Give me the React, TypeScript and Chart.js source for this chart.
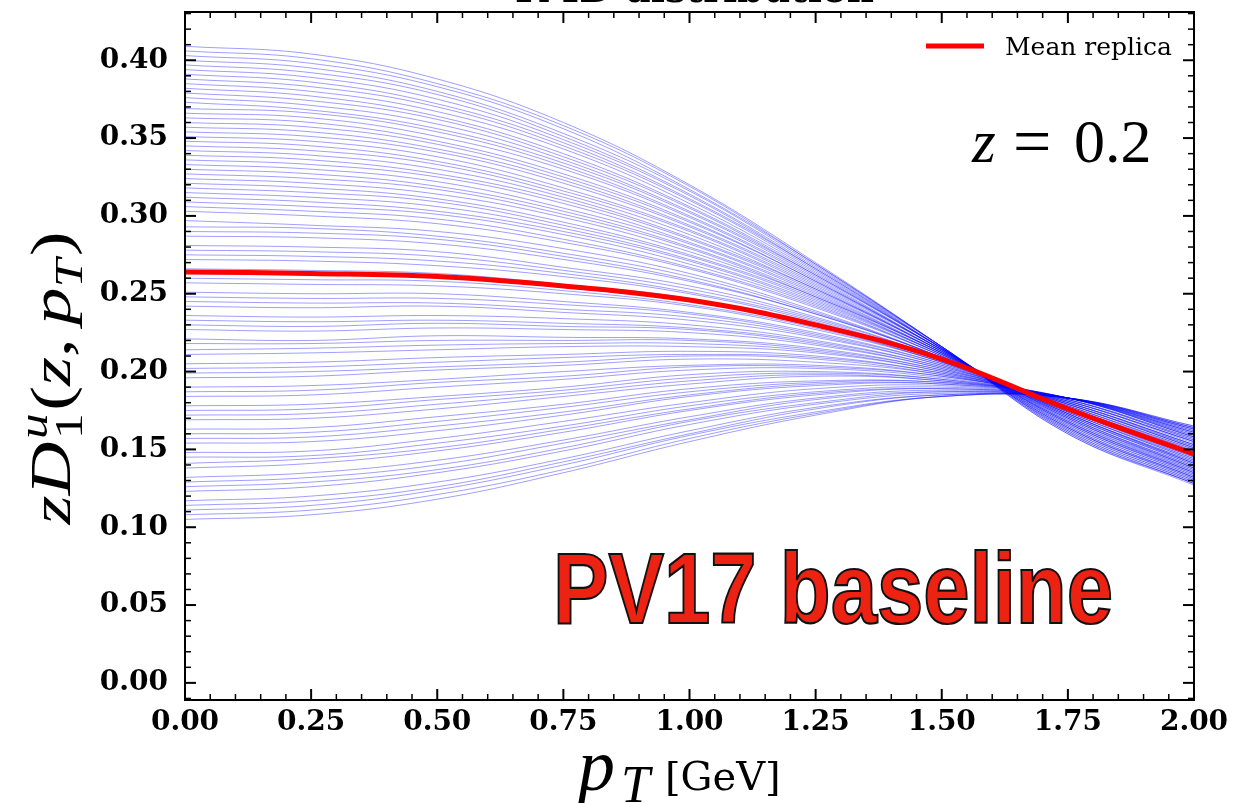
import { useEffect, useRef } from "react";
import { Chart, registerables } from "chart.js";

Chart.register(...registerables);

// ---------------- data ----------------
const PT = [0, 0.25, 0.5, 0.75, 1.0, 1.25, 1.5, 1.75, 2.0];

// replica values at each pT column (same replica order in every column)
const P000 = [
  0.105, 0.108, 0.114, 0.117, 0.123, 0.129, 0.132, 0.138, 0.145, 0.148,
  0.154, 0.160, 0.163, 0.169, 0.175, 0.178, 0.184, 0.190, 0.196, 0.199,
  0.205, 0.211, 0.214, 0.221, 0.227, 0.230, 0.236, 0.242, 0.245, 0.251,
  0.257, 0.263, 0.266, 0.272, 0.278, 0.281, 0.287, 0.293, 0.297, 0.303,
  0.309, 0.315, 0.318, 0.324, 0.330, 0.333, 0.339, 0.345, 0.348, 0.354,
  0.360, 0.363, 0.369, 0.373, 0.379, 0.382, 0.388, 0.391, 0.394, 0.397,
  0.400, 0.403, 0.406, 0.409,
  0.111, 0.126, 0.141, 0.157, 0.172, 0.187, 0.202, 0.218, 0.233, 0.248,
  0.260, 0.275, 0.290, 0.306, 0.312, 0.321, 0.327, 0.336, 0.342, 0.351,
  0.357, 0.366, 0.376, 0.385,
];
const P025 = [
  0.108, 0.111, 0.117, 0.120, 0.126, 0.132, 0.135, 0.141, 0.146, 0.149,
  0.155, 0.161, 0.164, 0.170, 0.176, 0.179, 0.185, 0.191, 0.197, 0.200,
  0.206, 0.212, 0.215, 0.220, 0.226, 0.229, 0.235, 0.241, 0.244, 0.250,
  0.256, 0.262, 0.265, 0.271, 0.277, 0.280, 0.286, 0.292, 0.294, 0.300,
  0.306, 0.312, 0.315, 0.321, 0.327, 0.330, 0.336, 0.342, 0.345, 0.351,
  0.357, 0.360, 0.366, 0.368, 0.374, 0.377, 0.383, 0.386, 0.389, 0.392,
  0.395, 0.398, 0.401, 0.404,
  0.114, 0.129, 0.144, 0.158, 0.173, 0.188, 0.203, 0.218, 0.232, 0.247,
  0.259, 0.274, 0.289, 0.303, 0.309, 0.318, 0.324, 0.333, 0.339, 0.348,
  0.354, 0.363, 0.371, 0.380,
];
const P050 = [
  0.118, 0.121, 0.126, 0.129, 0.135, 0.140, 0.143, 0.149, 0.154, 0.157,
  0.162, 0.168, 0.171, 0.176, 0.182, 0.184, 0.190, 0.195, 0.201, 0.203,
  0.209, 0.214, 0.217, 0.223, 0.228, 0.231, 0.236, 0.242, 0.244, 0.250,
  0.255, 0.260, 0.263, 0.268, 0.274, 0.277, 0.282, 0.287, 0.290, 0.295,
  0.301, 0.306, 0.309, 0.314, 0.319, 0.322, 0.327, 0.333, 0.335, 0.341,
  0.346, 0.348, 0.354, 0.356, 0.362, 0.364, 0.370, 0.372, 0.375, 0.378,
  0.380, 0.383, 0.385, 0.388,
  0.124, 0.137, 0.151, 0.165, 0.179, 0.193, 0.206, 0.220, 0.233, 0.247,
  0.258, 0.271, 0.285, 0.298, 0.303, 0.311, 0.317, 0.325, 0.330, 0.338,
  0.343, 0.351, 0.359, 0.367,
];
const P075 = [
  0.135, 0.137, 0.142, 0.144, 0.149, 0.154, 0.156, 0.161, 0.165, 0.168,
  0.172, 0.177, 0.179, 0.184, 0.188, 0.190, 0.195, 0.200, 0.204, 0.206,
  0.211, 0.216, 0.218, 0.222, 0.227, 0.229, 0.234, 0.238, 0.240, 0.245,
  0.250, 0.254, 0.256, 0.261, 0.265, 0.267, 0.272, 0.276, 0.279, 0.283,
  0.288, 0.292, 0.294, 0.299, 0.303, 0.305, 0.310, 0.314, 0.316, 0.321,
  0.325, 0.327, 0.332, 0.334, 0.338, 0.340, 0.345, 0.347, 0.349, 0.351,
  0.353, 0.356, 0.358, 0.360,
  0.140, 0.151, 0.163, 0.174, 0.186, 0.197, 0.209, 0.220, 0.231, 0.243,
  0.252, 0.263, 0.274, 0.285, 0.290, 0.296, 0.301, 0.308, 0.312, 0.318,
  0.323, 0.330, 0.336, 0.343,
];
const P100 = [
  0.155, 0.157, 0.160, 0.162, 0.166, 0.169, 0.171, 0.175, 0.178, 0.180,
  0.184, 0.187, 0.189, 0.192, 0.196, 0.198, 0.201, 0.204, 0.208, 0.210,
  0.213, 0.216, 0.218, 0.221, 0.225, 0.227, 0.230, 0.233, 0.235, 0.238,
  0.242, 0.245, 0.247, 0.250, 0.253, 0.255, 0.258, 0.261, 0.263, 0.266,
  0.269, 0.272, 0.274, 0.277, 0.280, 0.282, 0.285, 0.288, 0.290, 0.293,
  0.296, 0.297, 0.300, 0.302, 0.305, 0.306, 0.310, 0.311, 0.313, 0.314,
  0.316, 0.317, 0.319, 0.320,
  0.159, 0.168, 0.176, 0.185, 0.194, 0.203, 0.211, 0.220, 0.228, 0.237,
  0.243, 0.251, 0.259, 0.267, 0.271, 0.275, 0.279, 0.283, 0.286, 0.291,
  0.294, 0.299, 0.303, 0.308,
];
const P125 = [
  0.172, 0.173, 0.176, 0.177, 0.179, 0.182, 0.183, 0.185, 0.187, 0.189,
  0.191, 0.193, 0.194, 0.197, 0.199, 0.200, 0.202, 0.204, 0.206, 0.208,
  0.210, 0.212, 0.213, 0.215, 0.217, 0.218, 0.220, 0.222, 0.223, 0.225,
  0.227, 0.229, 0.230, 0.232, 0.234, 0.235, 0.237, 0.238, 0.239, 0.241,
  0.243, 0.245, 0.246, 0.248, 0.249, 0.250, 0.252, 0.253, 0.254, 0.256,
  0.258, 0.258, 0.260, 0.261, 0.262, 0.263, 0.265, 0.266, 0.266, 0.267,
  0.268, 0.269, 0.269, 0.270,
  0.174, 0.180, 0.186, 0.192, 0.198, 0.203, 0.209, 0.214, 0.219, 0.224,
  0.228, 0.233, 0.237, 0.242, 0.244, 0.247, 0.248, 0.251, 0.253, 0.255,
  0.257, 0.259, 0.262, 0.264,
];
const P150 = [
  0.184, 0.184, 0.185, 0.185, 0.186, 0.187, 0.188, 0.189, 0.190, 0.191,
  0.192, 0.193, 0.193, 0.194, 0.195, 0.195, 0.196, 0.197, 0.198, 0.198,
  0.199, 0.200, 0.200, 0.201, 0.202, 0.202, 0.203, 0.204, 0.204, 0.205,
  0.206, 0.206, 0.207, 0.207, 0.208, 0.208, 0.209, 0.209, 0.209, 0.210,
  0.210, 0.211, 0.211, 0.212, 0.212, 0.212, 0.213, 0.213, 0.213, 0.214,
  0.214, 0.214, 0.214, 0.215, 0.215, 0.215, 0.215, 0.215, 0.216, 0.216,
  0.216, 0.216, 0.216, 0.216,
  0.184, 0.187, 0.189, 0.192, 0.194, 0.197, 0.199, 0.201, 0.203, 0.205,
  0.206, 0.207, 0.209, 0.210, 0.211, 0.211, 0.212, 0.212, 0.213, 0.213,
  0.214, 0.214, 0.215, 0.215,
];
const P175 = [
  0.183, 0.183, 0.183, 0.183, 0.183, 0.183, 0.183, 0.183, 0.183, 0.183,
  0.183, 0.183, 0.183, 0.183, 0.183, 0.182, 0.182, 0.182, 0.181, 0.181,
  0.181, 0.180, 0.180, 0.180, 0.179, 0.179, 0.179, 0.178, 0.178, 0.177,
  0.177, 0.177, 0.176, 0.176, 0.175, 0.175, 0.175, 0.174, 0.174, 0.173,
  0.173, 0.172, 0.172, 0.171, 0.171, 0.170, 0.170, 0.169, 0.168, 0.168,
  0.167, 0.167, 0.166, 0.165, 0.164, 0.164, 0.163, 0.163, 0.162, 0.162,
  0.161, 0.161, 0.160, 0.160,
  0.183, 0.183, 0.183, 0.183, 0.183, 0.182, 0.181, 0.180, 0.179, 0.178,
  0.177, 0.176, 0.174, 0.173, 0.173, 0.172, 0.171, 0.170, 0.169, 0.168,
  0.167, 0.166, 0.165, 0.164,
];
const P200 = [
  0.165, 0.165, 0.164, 0.164, 0.163, 0.163, 0.162, 0.162, 0.161, 0.161,
  0.160, 0.159, 0.159, 0.158, 0.158, 0.157, 0.157, 0.156, 0.155, 0.155,
  0.154, 0.153, 0.153, 0.152, 0.152, 0.151, 0.151, 0.150, 0.150, 0.149,
  0.148, 0.147, 0.147, 0.146, 0.145, 0.145, 0.144, 0.143, 0.143, 0.142,
  0.141, 0.141, 0.140, 0.139, 0.138, 0.138, 0.137, 0.136, 0.136, 0.135,
  0.134, 0.134, 0.133, 0.132, 0.132, 0.131, 0.130, 0.130, 0.129, 0.129,
  0.128, 0.128, 0.128, 0.127,
  0.164, 0.163, 0.161, 0.160, 0.158, 0.156, 0.155, 0.153, 0.151, 0.149,
  0.148, 0.146, 0.144, 0.142, 0.141, 0.140, 0.139, 0.138, 0.137, 0.135,
  0.135, 0.133, 0.132, 0.131,
];

const MEAN_REPLICA = [0.264, 0.263, 0.261, 0.255, 0.246, 0.230, 0.208, 0.176, 0.147];

const X_TICKS = [0, 0.25, 0.5, 0.75, 1.0, 1.25, 1.5, 1.75, 2.0];
const Y_TICKS = [0, 0.05, 0.1, 0.15, 0.2, 0.25, 0.3, 0.35, 0.4];
const X_MIN = 0;
const X_MAX = 2;
const Y_MIN = -0.011;
const Y_MAX = 0.431;

const TITLE = "TMD distribution";
const LEGEND_LABEL = "Mean replica";
const Z_VALUE = "0.2";
const BANNER = "PV17 baseline";

// --------------- helpers ---------------
const COLUMNS = [P000, P025, P050, P075, P100, P125, P150, P175, P200];
const REPLICAS = P000.map((_, i) => COLUMNS.map((col) => col[i]));

type Seg = { text: string; font: string; dy?: number; noAdvance?: boolean; gap?: number };

function richWidth(ctx: CanvasRenderingContext2D, segs: Seg[]) {
  let w = 0;
  for (const s of segs) {
    ctx.font = s.font;
    if (!s.noAdvance) w += ctx.measureText(s.text).width + (s.gap || 0);
  }
  return w;
}

function drawRich(ctx: CanvasRenderingContext2D, segs: Seg[], x: number, y: number) {
  let cx = x;
  for (const s of segs) {
    ctx.font = s.font;
    ctx.fillText(s.text, cx, y + (s.dy || 0));
    if (!s.noAdvance) cx += ctx.measureText(s.text).width + (s.gap || 0);
  }
}

const SERIF = "'Liberation Serif', 'Times New Roman', serif";
const DJV = "'DejaVu Serif', serif";

const decorPlugin = {
  id: "decor",
  afterDraw(chart: any) {
    const ctx: CanvasRenderingContext2D = chart.ctx;
    const { left, right, top, bottom } = chart.chartArea;
    const xs = chart.scales.x;
    const ys = chart.scales.y;
    ctx.save();
    ctx.fillStyle = "#000";
    ctx.strokeStyle = "#000";

    // frame
    ctx.lineWidth = 2;
    ctx.strokeRect(left, top, right - left, bottom - top);

    // ticks (inward, all four sides)
    const tick = (x1: number, y1: number, x2: number, y2: number, w: number) => {
      ctx.lineWidth = w;
      ctx.beginPath();
      ctx.moveTo(x1, y1);
      ctx.lineTo(x2, y2);
      ctx.stroke();
    };
    for (let k = 0; k <= 40; k++) {
      const v = k * 0.05;
      const px = xs.getPixelForValue(v);
      const major = k % 5 === 0;
      const L = major ? 11 : 6;
      const w = major ? 2 : 1.5;
      tick(px, bottom, px, bottom - L, w);
      tick(px, top, px, top + L, w);
    }
    for (let k = -1; k <= 43; k++) {
      const v = k * 0.01;
      if (v < Y_MIN || v > Y_MAX) continue;
      const py = ys.getPixelForValue(v);
      const major = k % 5 === 0;
      const L = major ? 11 : 6;
      const w = major ? 2 : 1.5;
      tick(left, py, left + L, py, w);
      tick(right, py, right - L, py, w);
    }

    ctx.textAlign = "left";
    ctx.textBaseline = "alphabetic";

    // title, mostly cut off at the top of the page
    ctx.font = `bold 40px ${DJV}`;
    const tw = ctx.measureText(TITLE).width;
    ctx.save();
    ctx.translate(510, 2);
    ctx.scale(364 / tw, 1);
    ctx.fillText(TITLE, 0, 0);
    ctx.restore();

    // legend
    ctx.strokeStyle = "#ff0000";
    ctx.lineWidth = 5;
    ctx.beginPath();
    ctx.moveTo(926, 46);
    ctx.lineTo(984, 46);
    ctx.stroke();
    ctx.fillStyle = "#000";
    ctx.font = `25px ${DJV}`;
    ctx.fillText(LEGEND_LABEL, 1005, 55);

    // z = 0.2
    ctx.font = `italic 61px ${SERIF}`;
    ctx.fillText("z", 972, 162);
    ctx.font = `68px ${SERIF}`;
    ctx.fillText("=", 1013, 164);
    ctx.font = `62px ${SERIF}`;
    ctx.fillText(Z_VALUE, 1074, 162);

    // PV17 baseline banner
    ctx.save();
    ctx.font = `bold 100px 'Liberation Sans Narrow', 'Liberation Sans', Arial, sans-serif`;
    const bw = ctx.measureText(BANNER).width;
    ctx.translate(553, 623);
    ctx.scale(560 / bw, 1);
    ctx.fillStyle = "#ee2212";
    ctx.fillText(BANNER, 0, 0);
    ctx.lineWidth = 2.2;
    ctx.strokeStyle = "#111";
    ctx.strokeText(BANNER, 0, 0);
    ctx.restore();

    // y axis label: z D_1^u(z, p_T)
    const F = 58;
    const S = 40;
    const ySegs: Seg[] = [
      { text: "z", font: `italic ${F}px ${SERIF}` },
      { text: "D", font: `italic ${F}px ${SERIF}`, gap: 2 },
      { text: "u", font: `italic ${S}px ${SERIF}`, dy: -F * 0.4, noAdvance: true },
      { text: "1", font: `${S}px ${SERIF}`, dy: F * 0.2, gap: 2 },
      { text: "(", font: `${F}px ${SERIF}` },
      { text: "z", font: `italic ${F}px ${SERIF}` },
      { text: ",", font: `${F}px ${SERIF}`, gap: F * 0.18 },
      { text: "p", font: `italic ${F}px ${SERIF}` },
      { text: "T", font: `italic ${S}px ${SERIF}`, dy: F * 0.2, gap: 2 },
      { text: ")", font: `${F}px ${SERIF}` },
    ];
    const yw = richWidth(ctx, ySegs);
    ctx.save();
    ctx.translate(70, 378);
    ctx.rotate(-Math.PI / 2);
    ctx.scale(293 / yw, 1);
    drawRich(ctx, ySegs, -yw / 2, 0);
    ctx.restore();

    // x axis label: p_T [GeV]
    ctx.font = `italic 74px ${SERIF}`;
    ctx.fillText("p", 578, 790);
    ctx.font = `italic 52px ${SERIF}`;
    ctx.fillText("T", 621, 802);
    ctx.font = `40px ${DJV}`;
    ctx.fillText("[GeV]", 665, 790);

    ctx.restore();
  },
};

export default function App() {
  const canvasRef = useRef<HTMLCanvasElement | null>(null);

  useEffect(() => {
    const canvas = canvasRef.current;
    if (!canvas) return;

    const datasets: any[] = [
      {
        label: LEGEND_LABEL,
        data: PT.map((x, j) => ({ x, y: MEAN_REPLICA[j] })),
        borderColor: "#ff0000",
        borderWidth: 5,
        pointRadius: 0,
        fill: false,
        tension: 0.4,
      },
      ...REPLICAS.map((rep, i) => ({
        label: `replica ${i + 1}`,
        data: PT.map((x, j) => ({ x, y: rep[j] })),
        borderColor: "rgba(0,0,255,0.38)",
        borderWidth: 1,
        pointRadius: 0,
        fill: false,
        tension: 0.4,
      })),
    ];

    const tickFont = { family: "'DejaVu Serif'", weight: "bold" as const, size: 28 };

    const chart = new Chart(canvas, {
      type: "line",
      data: { datasets },
      options: {
        responsive: false,
        animation: false,
        devicePixelRatio: 1,
        layout: { padding: { left: 0, right: 39, top: 12, bottom: 0 } },
        plugins: {
          legend: { display: false },
          tooltip: { enabled: false },
          title: { display: false },
        },
        scales: {
          x: {
            type: "linear",
            min: X_MIN,
            max: X_MAX,
            grid: { display: false, drawTicks: false },
            border: { display: false },
            afterBuildTicks: (s: any) => {
              s.ticks = X_TICKS.map((v) => ({ value: v }));
            },
            afterFit: (s: any) => {
              s.height = 103;
              s.paddingLeft = 0;
              s.paddingRight = 0;
            },
            ticks: {
              callback: (v: any) => Number(v).toFixed(2),
              font: tickFont,
              color: "#000",
              padding: 6,
              maxRotation: 0,
              autoSkip: false,
            },
          },
          y: {
            type: "linear",
            min: Y_MIN,
            max: Y_MAX,
            grid: { display: false, drawTicks: false },
            border: { display: false },
            afterBuildTicks: (s: any) => {
              s.ticks = Y_TICKS.map((v) => ({ value: v }));
            },
            afterFit: (s: any) => {
              s.width = 185;
              s.paddingTop = 0;
              s.paddingBottom = 0;
            },
            ticks: {
              callback: (v: any) => Number(v).toFixed(2),
              font: tickFont,
              color: "#000",
              padding: 17,
              autoSkip: false,
            },
          },
        },
      } as any,
      plugins: [decorPlugin],
    });

    return () => chart.destroy();
  }, []);

  return (
    <div style={{ position: "absolute", left: 0, top: 0, width: 1233, height: 803, background: "#fff" }}>
      <canvas ref={canvasRef} width={1233} height={803} style={{ display: "block" }} />
    </div>
  );
}
